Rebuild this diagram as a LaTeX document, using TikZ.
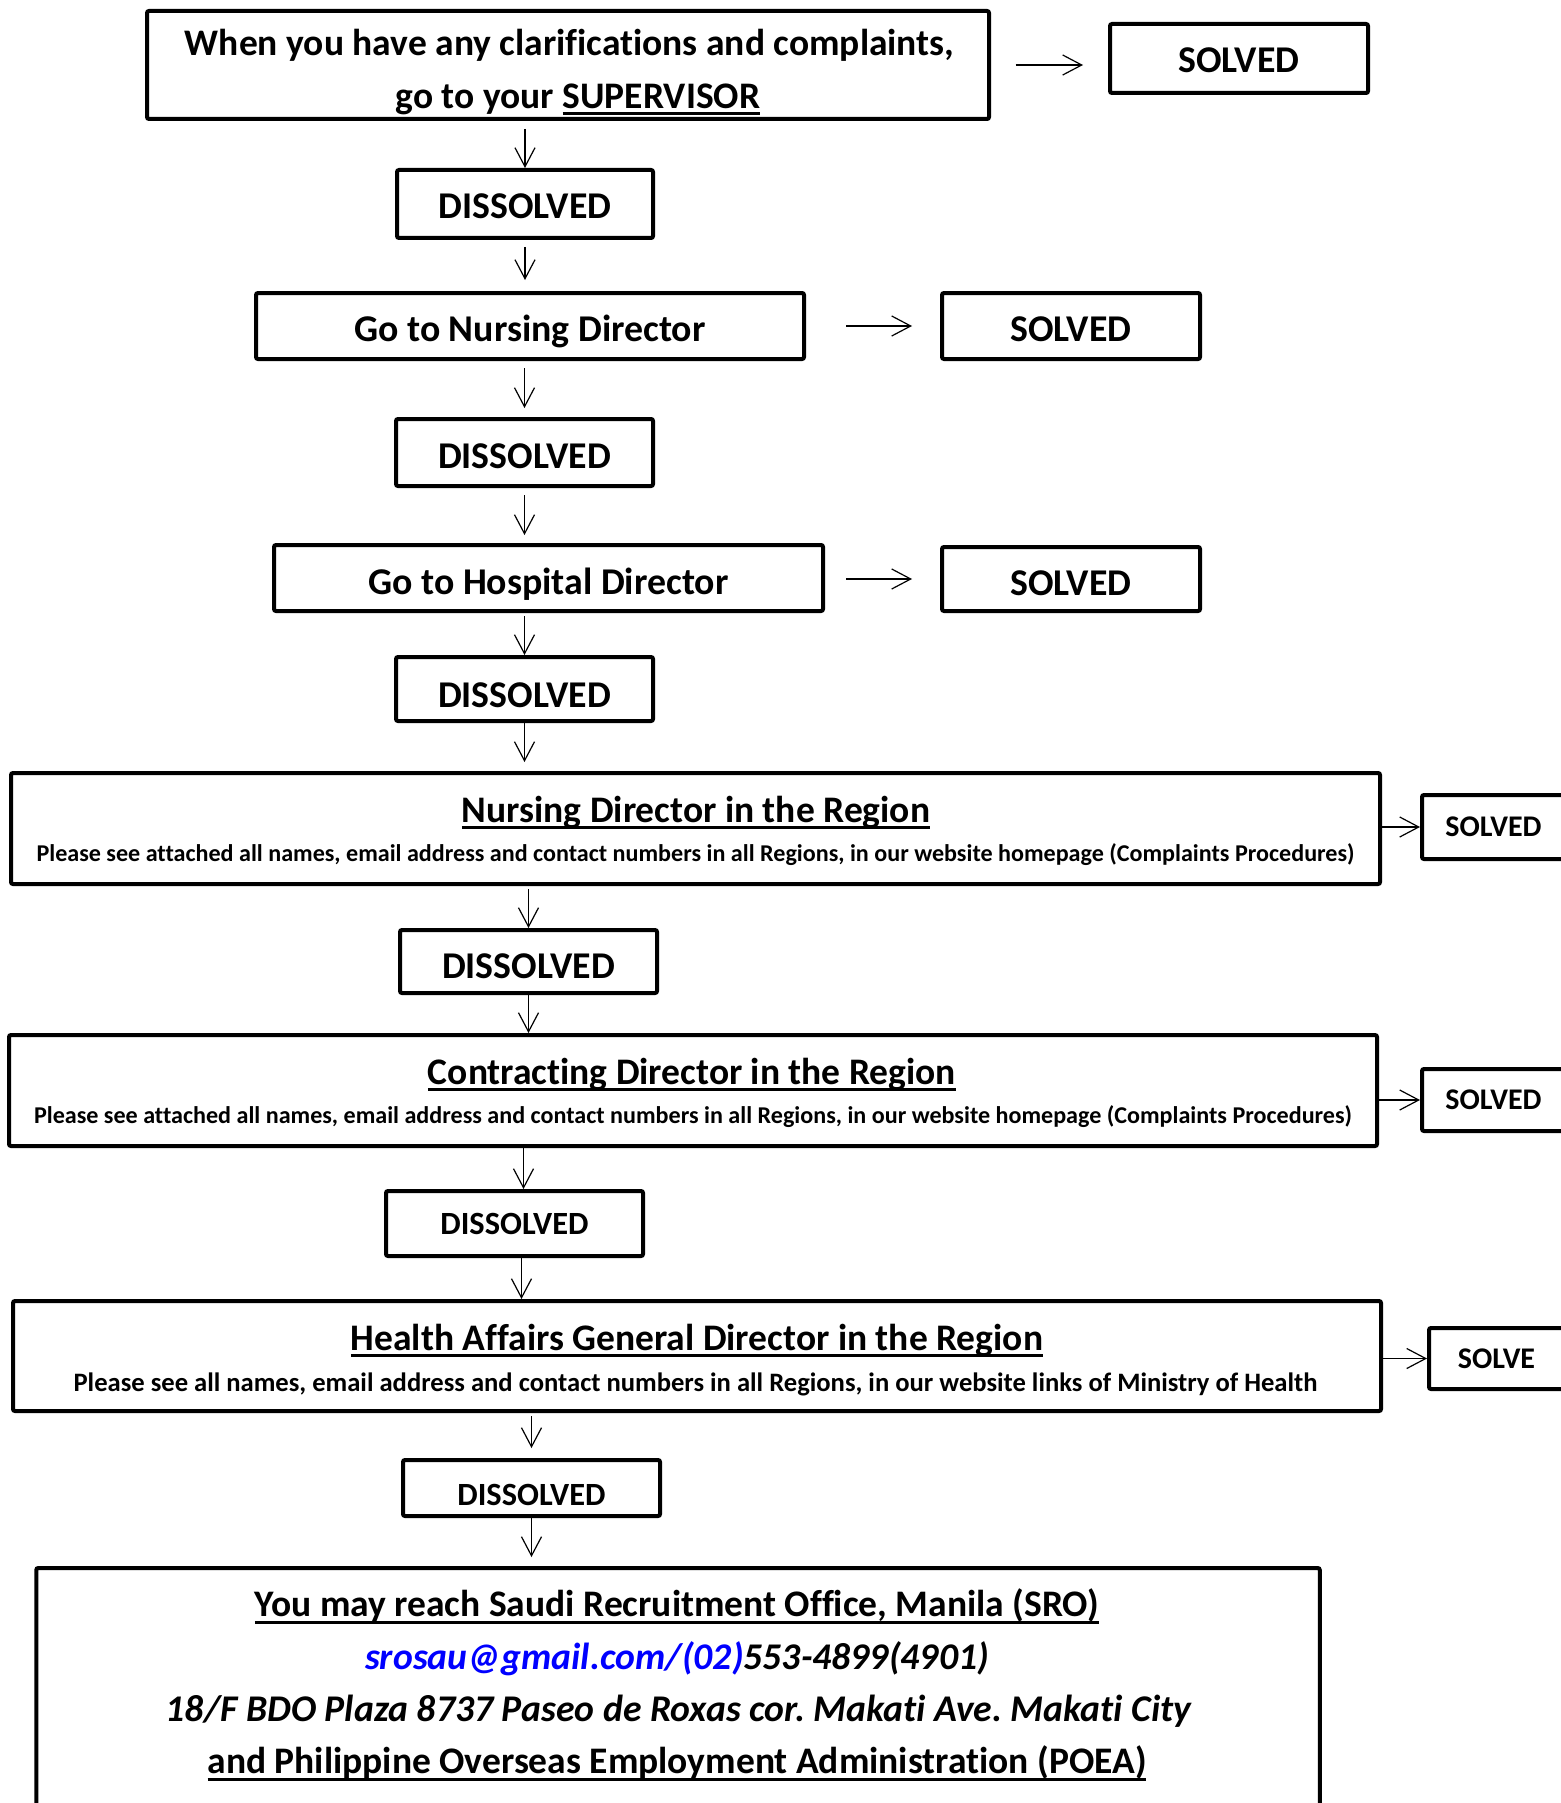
\documentclass[tikz,border=0pt]{standalone}
\usepackage{fontspec}
\setmainfont{Carlito}[Ligatures=NoCommon]
\usetikzlibrary{arrows.meta}
\frenchspacing
\newcommand\ulx[1]{\vtop{\hbox{\raisebox{0pt}[\height][0pt]{#1}}\kern2pt\hrule height 1.5pt}}
\begin{document}
\begin{tikzpicture}[x=0.5pt,y=-0.5pt,
  box/.style={draw, line width=2pt, rounded corners=1pt, inner sep=0pt, text depth=0pt,
    font=\bfseries\fontsize{18.9}{22}\selectfont},
  smallbox/.style={box, font=\bfseries\fontsize{15}{17}\selectfont},
  midbox/.style={box, font=\bfseries\fontsize{16.2}{19}\selectfont},
  txt/.style={inner sep=0pt, anchor=base, font=\bfseries\fontsize{18.75}{22}\selectfont},
  sub/.style={inner sep=0pt, anchor=base, font=\bfseries\fontsize{12.05}{14}\selectfont},
  subbig/.style={inner sep=0pt, anchor=base, font=\bfseries\fontsize{13.3}{16}\selectfont},
  itx/.style={txt, font=\bfseries\itshape\fontsize{18.85}{22}\selectfont},
  arr/.style={-{Straight Barb[length=9.5pt,width=10pt]}, line width=0.6pt},
]
\useasboundingbox (0,0) rectangle (1561,1803);
% boxes
\node[box, minimum width=421pt, minimum height=54pt] (top) at (568,65) {};
\node[box, text height=14.5pt, minimum width=129pt, minimum height=34.5pt] (s1) at (1239,58.5) {SOLVED};
\node[box, text height=14.5pt, minimum width=128pt, minimum height=34pt] (d1) at (525,204) {DISSOLVED};
\node[box, text height=15.7pt, minimum width=274pt, minimum height=33pt] (nd) at (530,326) {Go to Nursing Director};
\node[box, text height=15.6pt, minimum width=129pt, minimum height=33pt] (s2) at (1071,326) {SOLVED};
\node[box, text height=15.6pt, minimum width=128.5pt, minimum height=33.5pt] (d2) at (524.5,452.5) {DISSOLVED};
\node[box, text height=16.8pt, minimum width=274.5pt, minimum height=33pt] (hd) at (548.5,578) {Go to Hospital Director};
\node[box, text height=16.8pt, minimum width=129pt, minimum height=32pt] (s3) at (1071,579) {SOLVED};
\node[box, text height=18pt, minimum width=128.5pt, minimum height=32pt] (d3) at (524.5,689) {DISSOLVED};
\node[box, minimum width=684.5pt, minimum height=55.5pt] (nr) at (695.5,828.5) {};
\node[smallbox, minimum width=71.5pt, minimum height=32pt] (s4) at (1493.5,827) {SOLVED};
\node[box, text height=16.8pt, minimum width=128.5pt, minimum height=31.5pt] (d4) at (528.5,961.5) {DISSOLVED};
\node[box, minimum width=684pt, minimum height=55.5pt] (cr) at (693,1090.5) {};
\node[smallbox, minimum width=71.5pt, minimum height=31pt] (s5) at (1493.5,1100) {SOLVED};
\node[midbox, minimum width=128.5pt, minimum height=32.5pt] (d5) at (514.5,1223.5) {DISSOLVED};
\node[box, minimum width=684pt, minimum height=55pt] (ha) at (697,1356) {};
\node[smallbox, minimum width=67.5pt, minimum height=30.5pt] (so) at (1496.5,1358.5) {SOLVE};
\node[midbox, text height=17.2pt, minimum width=128.5pt, minimum height=28pt] (d6) at (531.5,1488) {DISSOLVED};
\node[box, minimum width=641.75pt, minimum height=191pt] (fin) at (678,1759) {};
% texts
\node[txt] (topA) at (569.5,55.3) {When you have any clarifications and complaints,};
\node[txt] (topB) at (578,108.3) {go to your \ulx{SUPERVISOR}};
\node[txt] (nrA) at (696,822) {\ulx{Nursing Director in the Region}};
\node[sub] (nrB) at (695.5,861.3) {Please see attached all names, email address and contact numbers in all Regions, in our website homepage (Complaints Procedures)};
\node[txt] (crA) at (692,1084) {\ulx{Contracting Director in the Region}};
\node[sub] (crB) at (693,1123.3) {Please see attached all names, email address and contact numbers in all Regions, in our website homepage (Complaints Procedures)};
\node[txt] (haA) at (697,1350) {\ulx{Health Affairs General Director in the Region}};
\node[subbig] (haB) at (695.5,1391.3) {Please see all names, email address and contact numbers in all Regions, in our website links of Ministry of Health};
\node[txt] (fA) at (677,1616.5) {\ulx{You may reach Saudi Recruitment Office, Manila (SRO)}};
\node[itx] (fB) at (677,1669.5) {\textcolor{blue}{srosau@gmail.com/(02)}553-4899(4901)};
\node[itx] (fC) at (678.5,1721.5) {18/F BDO Plaza 8737 Paseo de Roxas cor. Makati Ave. Makati City};
\node[txt] (fD) at (677,1773.5) {\ulx{and Philippine Overseas Employment Administration (POEA)}};
% vertical arrows
\draw[arr, shorten <=4pt] (d1.north |- top.south) -- (d1.north);
\draw[arr, shorten <=3.5pt, shorten >=5.5pt] (d1.south) -- (d1.south |- nd.north);
\draw[arr, shorten <=3.5pt, shorten >=4.5pt] (d2.north |- nd.south) -- (d2.north);
\draw[arr, shorten <=3.5pt, shorten >=4pt] (d2.south) -- (d2.south |- hd.north);
\draw[arr, shorten <=1.5pt] (d3.north |- hd.south) -- (d3.north);
\draw[arr, shorten >=4.5pt] (d3.south) -- (d3.south |- nr.north);
\draw[arr, shorten <=1.5pt] (d4.north |- nr.south) -- (d4.north);
\draw[arr] (d4.south) -- (d4.south |- cr.north);
\draw[arr] ([xshift=4.5pt]d5.north |- cr.south) -- ([xshift=4.5pt]d5.north);
\draw[arr] ([xshift=3.5pt]d5.south) -- ([xshift=3.5pt]d5.south |- ha.north);
\draw[arr, shorten <=1.5pt, shorten >=5pt] (d6.north |- ha.south) -- (d6.north);
\draw[arr, shorten >=4.5pt] (d6.south) -- (d6.south |- fin.north);
% horizontal arrows
\draw[arr, shorten <=12.25pt, shorten >=12.5pt] (top.east) -- (top.east -| s1.west);
\draw[arr, shorten <=20pt, shorten >=14pt] (nd.east) -- (nd.east -| s2.west);
\draw[arr, shorten <=10.5pt, shorten >=14pt] (hd.east |- s3.west) -- (s3.west);
\draw[arr] (nr.east |- s4.west) -- (s4.west);
\draw[arr] (cr.east |- s5.west) -- (s5.west);
\draw[arr] (ha.east |- so.west) -- (so.west);
\end{tikzpicture}
\end{document}
